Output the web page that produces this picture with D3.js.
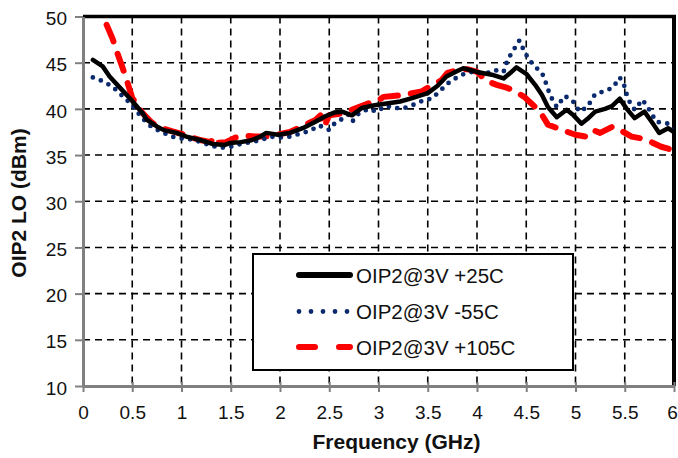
<!DOCTYPE html>
<html>
<head>
<meta charset="utf-8">
<script src="https://cdn.jsdelivr.net/npm/d3@7"></script>
<style>
  html, body { margin: 0; padding: 0; background: #fff; }
  svg { display: block; font-family: "Liberation Sans", Arial, sans-serif; }
</style>
</head>
<body>
<svg id="chart" width="678" height="458"></svg>
<script>
// Frequency (GHz) / OIP2 (dBm) per temperature
const freq25 = [0.1,0.2,0.27,0.4,0.48,0.6,0.65,0.75,0.82,0.95,1.05,1.2,1.32,1.44,1.49,1.6,1.71,1.8,1.86,1.98,2.1,2.25,2.36,2.46,2.55,2.63,2.73,2.83,2.96,3.1,3.22,3.35,3.5,3.6,3.69,3.8,3.86,4.0,4.15,4.27,4.35,4.4,4.5,4.59,4.66,4.72,4.81,4.91,4.98,5.06,5.12,5.2,5.3,5.37,5.45,5.52,5.6,5.7,5.78,5.85,5.94,6.0];
const oip25 = [45.3,44.6,43.5,42.0,41.1,39.6,38.8,38.1,37.7,37.4,37.0,36.6,36.2,36.1,36.3,36.4,36.6,37.0,37.4,37.2,37.4,38.0,38.6,39.2,39.6,39.7,39.3,40.1,40.4,40.6,40.8,41.2,41.7,42.5,43.5,44.1,44.4,44.0,43.7,43.3,44.0,44.5,43.8,42.6,41.5,40.2,39.1,39.9,39.3,38.4,38.9,39.7,40.0,40.3,41.1,40.0,39.0,39.7,38.5,37.4,37.9,37.5];

const freq55 = [0.1,0.2,0.3,0.4,0.5,0.6,0.7,0.8,0.9,1.0,1.1,1.2,1.3,1.4,1.5,1.6,1.7,1.8,1.9,2.0,2.1,2.2,2.3,2.4,2.5,2.56,2.63,2.7,2.74,2.8,2.9,2.98,3.07,3.15,3.22,3.3,3.39,3.47,3.54,3.62,3.71,3.78,3.87,3.95,4.03,4.11,4.18,4.27,4.31,4.35,4.43,4.49,4.57,4.66,4.71,4.74,4.81,4.89,4.97,5.04,5.12,5.2,5.29,5.38,5.45,5.5,5.53,5.6,5.68,5.75,5.82,5.94,6.0];
const oip55 = [43.4,43.0,42.4,41.4,40.4,39.0,38.0,37.5,37.0,36.8,36.7,36.4,36.0,35.8,35.9,36.2,36.4,36.6,37.0,36.9,37.0,37.3,37.6,38.2,37.7,38.5,38.9,39.4,38.7,39.5,40.0,39.7,40.3,40.2,40.0,40.2,40.6,41.0,41.1,41.9,42.8,43.3,43.8,44.0,43.9,43.9,44.2,44.0,45.3,46.0,47.4,46.0,44.75,43.9,42.5,41.5,40.2,41.4,40.9,39.7,40.2,41.6,41.9,42.3,43.4,42.4,41.1,39.9,41.0,39.9,38.6,38.4,37.5];

const freq105 = [0.24,0.3,0.35,0.4,0.45,0.5,0.6,0.7,0.8,0.9,1.0,1.1,1.2,1.3,1.32,1.35,1.45,1.55,1.65,1.75,1.85,1.97,2.1,2.2,2.3,2.36,2.41,2.45,2.5,2.63,2.7,2.8,2.9,3.0,3.05,3.15,3.24,3.3,3.44,3.55,3.64,3.7,3.8,3.9,4.0,4.1,4.2,4.3,4.37,4.48,4.56,4.64,4.72,4.82,4.92,5.0,5.1,5.15,5.18,5.25,5.38,5.47,5.57,5.67,5.77,5.87,5.94,6.0];
const oip105 = [49.1,47.6,46.0,44.5,42.9,41.2,39.6,38.5,37.9,37.6,37.3,36.9,36.6,36.4,36.9,36.3,36.4,36.9,37.1,37.0,37.0,37.2,37.5,38.0,38.5,38.8,39.3,38.1,39.3,39.5,39.8,40.2,40.6,40.9,41.3,41.4,41.5,41.6,41.9,42.6,43.1,43.9,44.2,44.3,44.0,43.0,42.6,42.3,42.0,41.3,40.5,39.7,38.3,37.9,37.5,37.2,37.0,37.3,37.7,37.4,38.1,37.6,37.0,36.8,36.4,35.9,35.7,35.5];

const xTicks = [0,0.5,1,1.5,2,2.5,3,3.5,4,4.5,5,5.5,6];
const yTicks = [10,15,20,25,30,35,40,45,50];

const seriesNames = ["OIP2@3V +25C", "OIP2@3V -55C", "OIP2@3V +105C"];

const svg = d3.select("#chart");
const plot = { left: 83, right: 674, top: 16.5, bottom: 386 };

const x = d3.scaleLinear().domain([0, 6]).range([plot.left, plot.right]);
const y = d3.scaleLinear().domain([10, 50]).range([plot.bottom, plot.top]);

// dashed grid
const grid = svg.append("g");
grid.selectAll("line.v").data(xTicks.filter(t => t > 0 && t < 6)).join("line")
  .attr("x1", d => x(d)).attr("x2", d => x(d))
  .attr("y1", plot.top).attr("y2", plot.bottom)
  .attr("stroke", "#000").attr("stroke-width", 1.6).attr("stroke-dasharray", "7,5");
grid.selectAll("line.h").data(yTicks.filter(t => t > 10 && t < 50)).join("line")
  .attr("x1", plot.left).attr("x2", plot.right)
  .attr("y1", d => y(d)).attr("y2", d => y(d))
  .attr("stroke", "#000").attr("stroke-width", 1.6).attr("stroke-dasharray", "7,5");

// frame: black top/right, grey axes
svg.append("line").attr("x1", plot.left).attr("x2", plot.right + 2)
  .attr("y1", plot.top).attr("y2", plot.top).attr("stroke", "#000").attr("stroke-width", 3.5);
svg.append("line").attr("x1", plot.right).attr("x2", plot.right)
  .attr("y1", plot.top).attr("y2", plot.bottom).attr("stroke", "#000").attr("stroke-width", 4);

const xAxis = svg.append("g").attr("transform", `translate(0,${plot.bottom})`)
  .call(d3.axisBottom(x).tickValues(xTicks).tickFormat(d3.format("")).tickSize(6).tickSizeOuter(0));
const yAxis = svg.append("g").attr("transform", `translate(${plot.left},0)`)
  .call(d3.axisLeft(y).tickValues(yTicks).tickSize(8).tickSizeOuter(0));

[xAxis, yAxis].forEach(g => {
  g.select(".domain").attr("stroke", "#808080").attr("stroke-width", 3);
  g.selectAll(".tick line").attr("stroke", "#808080").attr("stroke-width", 2);
  g.selectAll(".tick text").attr("fill", "#111").attr("font-size", 19)
    .attr("font-family", "Liberation Sans, Arial, sans-serif");
});
xAxis.selectAll(".tick line").attr("y1", -4).attr("y2", 6);
xAxis.selectAll(".tick text").attr("y", 19.5)
  .attr("x", d => d === 6 ? -2 : 0);   // keep the last label inside the page
yAxis.selectAll(".tick text").attr("x", -16).attr("dy", "0.43em");

// data lines
const line = d3.line().x(d => x(d[0])).y(d => y(d[1])).curve(d3.curveLinear);
svg.append("clipPath").attr("id", "plotclip").append("rect")
  .attr("x", plot.left).attr("y", plot.top - 4)
  .attr("width", plot.right - plot.left).attr("height", plot.bottom - plot.top + 4);
const lines = svg.append("g").attr("clip-path", "url(#plotclip)");

lines.append("path").datum(d3.zip(freq105, oip105)).attr("d", line)
  .attr("fill", "none").attr("stroke", "#ff0000").attr("stroke-width", 6)
  .attr("stroke-linecap", "round").attr("stroke-linejoin", "round")
  .attr("stroke-dasharray", "18,13");
lines.append("path").datum(d3.zip(freq55, oip55)).attr("d", line)
  .attr("fill", "none").attr("stroke", "#0b2a6e").attr("stroke-width", 4.8)
  .attr("stroke-linecap", "round").attr("stroke-dasharray", "0,8.5");
lines.append("path").datum(d3.zip(freq25, oip25)).attr("d", line)
  .attr("fill", "none").attr("stroke", "#000").attr("stroke-width", 4.5)
  .attr("stroke-linecap", "round").attr("stroke-linejoin", "round");

// legend
const lg = svg.append("g");
lg.append("rect").attr("x", 253).attr("y", 254).attr("width", 320).attr("height", 116)
  .attr("fill", "#fff").attr("stroke", "#000").attr("stroke-width", 2);
const rowsY = [275, 311.5, 347];
const styles = [
  { stroke: "#000", width: 6, dash: null, cap: "round" },
  { stroke: "#0b2a6e", width: 4.8, dash: "0,12", cap: "round" },
  { stroke: "#ff0000", width: 6, dash: "16,24", cap: "round" }
];
seriesNames.forEach((name, i) => {
  const s = styles[i];
  const l = lg.append("line").attr("x1", 299).attr("x2", 350)
    .attr("y1", rowsY[i]).attr("y2", rowsY[i])
    .attr("stroke", s.stroke).attr("stroke-width", s.width).attr("stroke-linecap", s.cap);
  if (s.dash) l.attr("stroke-dasharray", s.dash);
  lg.append("text").attr("x", 356).attr("y", rowsY[i] + 7.5)
    .attr("font-size", 20.5).attr("fill", "#111").text(name);
});

// axis titles
svg.append("text").attr("x", 396.5).attr("y", 449).attr("text-anchor", "middle")
  .attr("font-size", 21).attr("font-weight", "bold").attr("fill", "#111")
  .text("Frequency (GHz)");
svg.append("text").attr("transform", "translate(25.5,203) rotate(-90)")
  .attr("text-anchor", "middle").attr("font-size", 21).attr("font-weight", "bold")
  .attr("fill", "#111").text("OIP2 LO (dBm)");
</script>
</body>
</html>
